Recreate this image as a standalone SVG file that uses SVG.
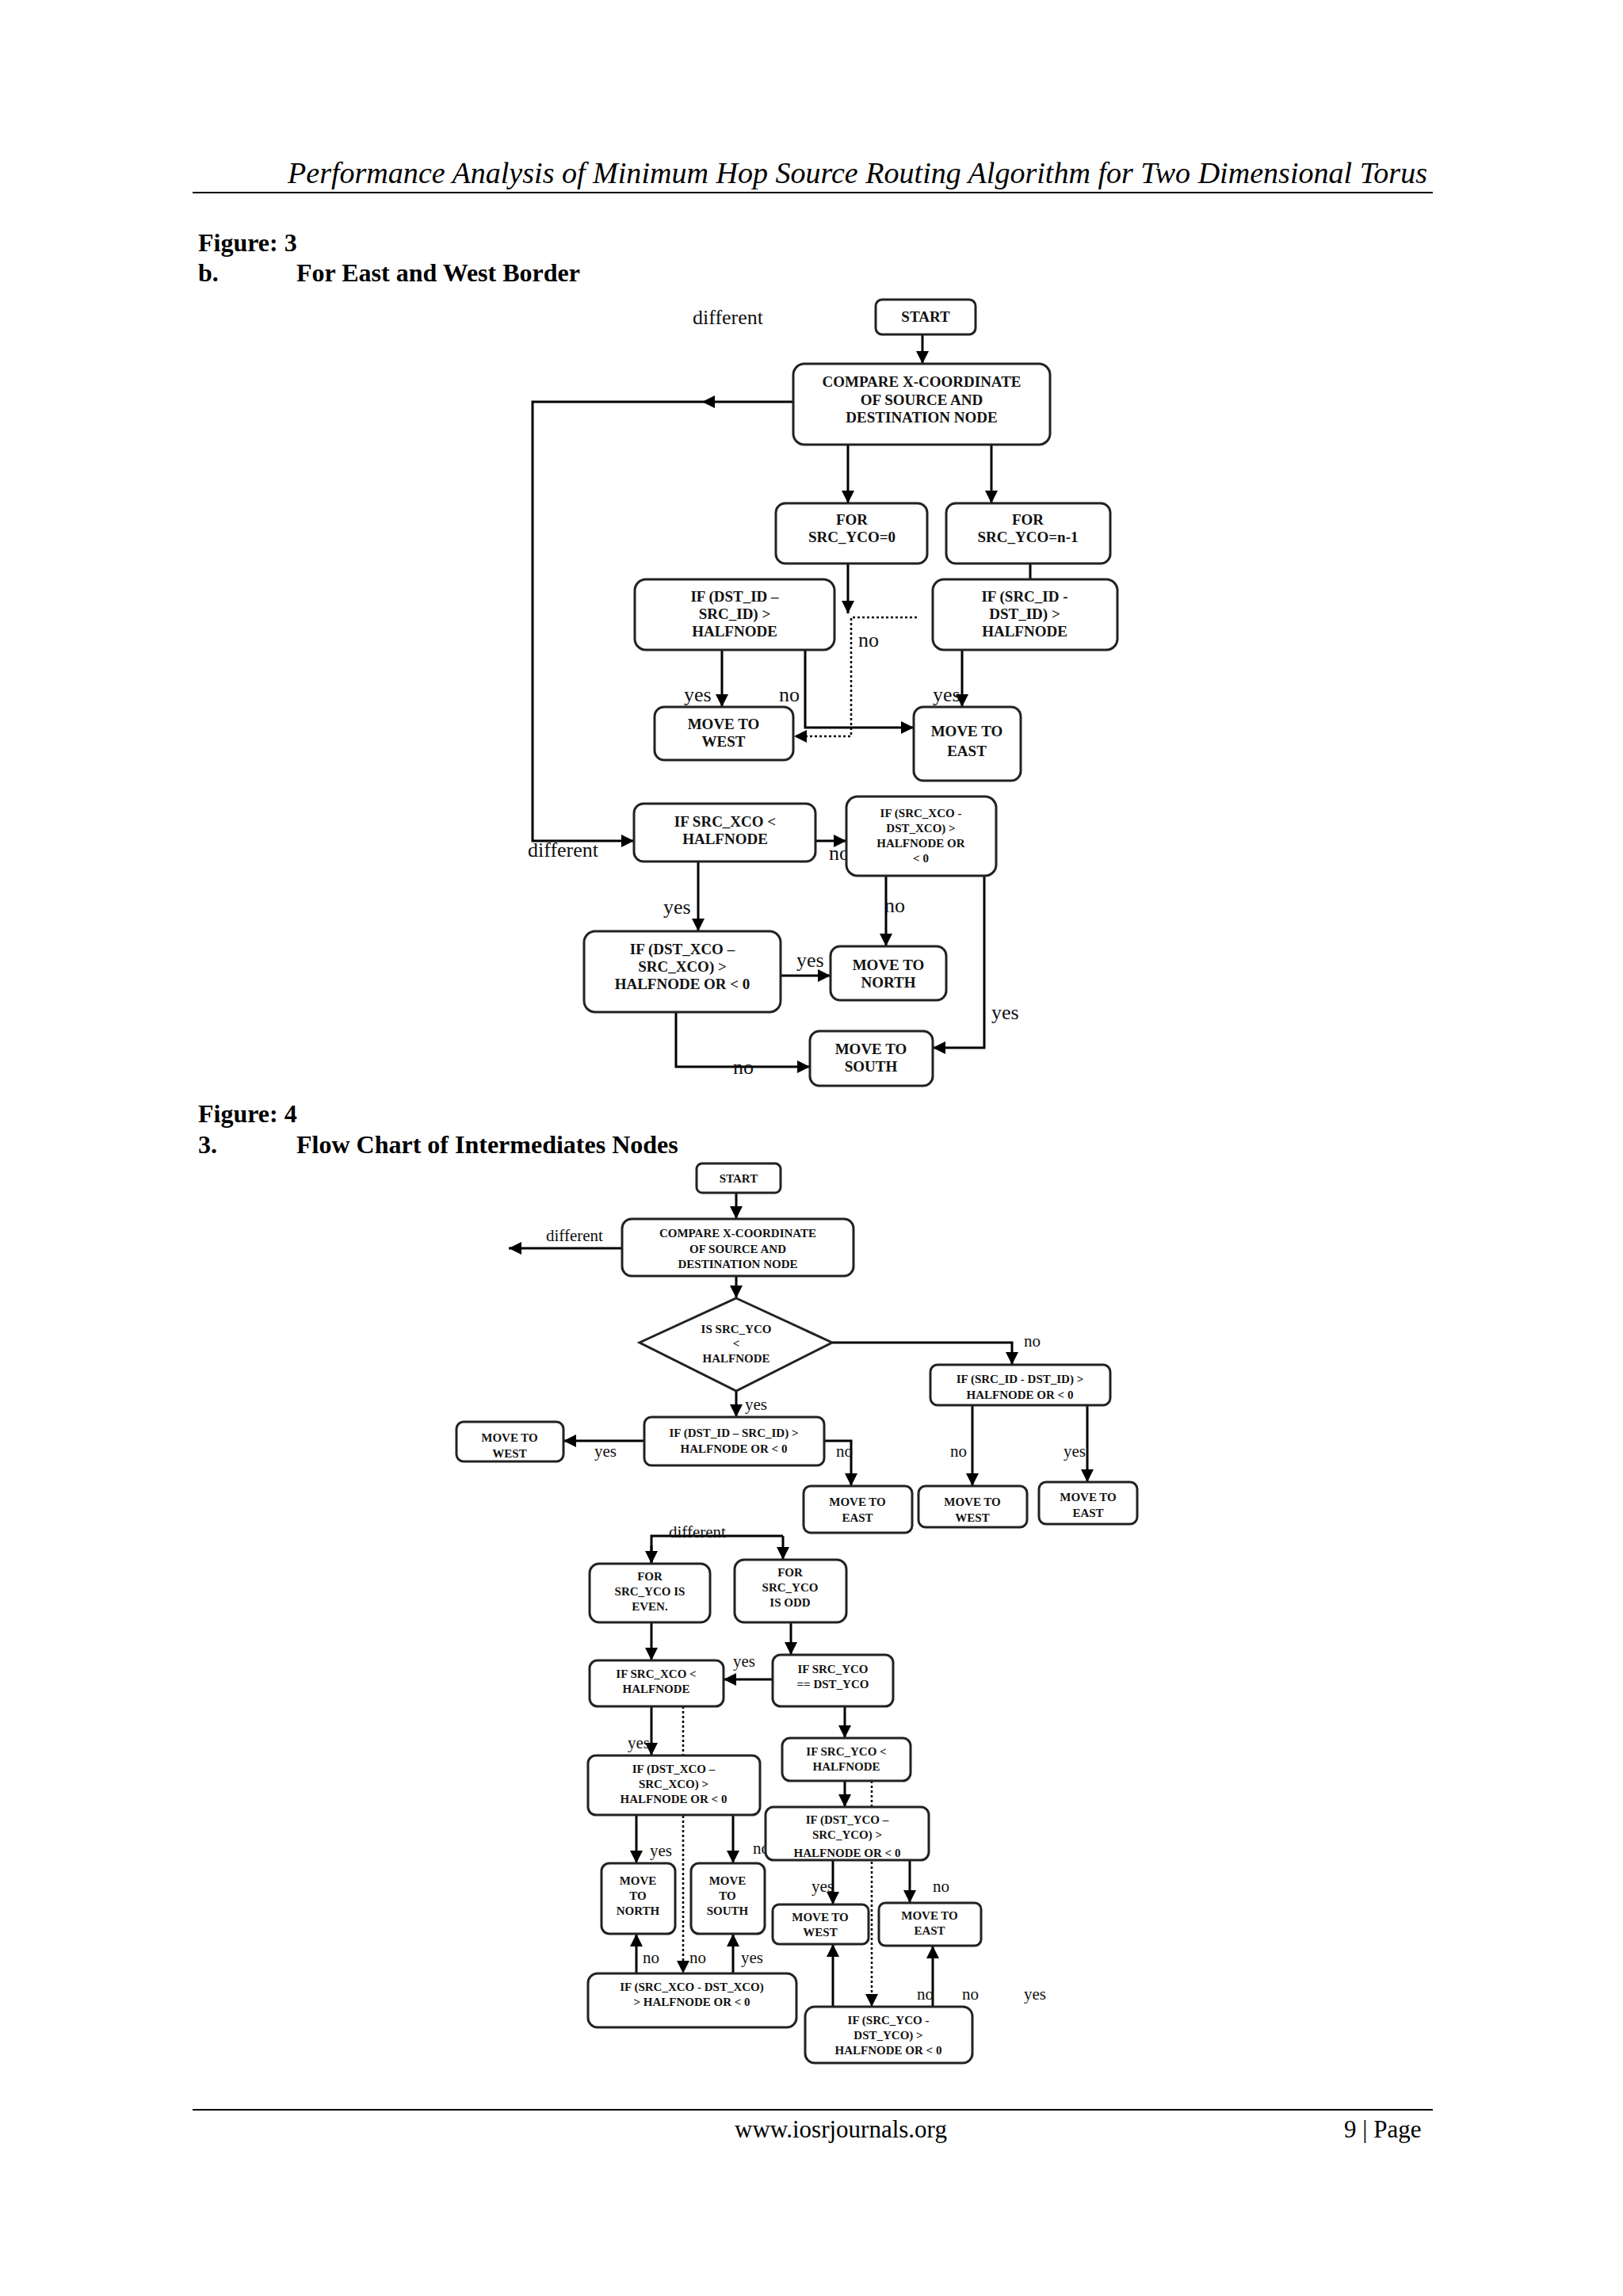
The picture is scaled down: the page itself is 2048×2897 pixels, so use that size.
<svg xmlns="http://www.w3.org/2000/svg" width="2048" height="2897" viewBox="0 0 2048 2897">
<defs>
<marker id="ah" viewBox="0 0 10 10" refX="10" refY="5" markerWidth="16" markerHeight="16" markerUnits="userSpaceOnUse" orient="auto"><path d="M0,0 L10,5 L0,10 z" fill="#000"/></marker>
<clipPath id="c1"><rect x="966" y="2280" width="206" height="64"/></clipPath>
</defs>
<style>
.b{fill:#fff;stroke:#222;stroke-width:3}
.t{font-family:"Liberation Serif",serif;font-weight:bold;font-size:19px;text-anchor:middle;fill:#111}
.s{font-family:"Liberation Serif",serif;font-weight:bold;font-size:15px;text-anchor:middle;fill:#111}
.l{font-family:"Liberation Serif",serif;font-size:26px;fill:#111}
.ls{font-family:"Liberation Serif",serif;font-size:21px;fill:#111}
.c{fill:none;stroke:#000;stroke-width:3}
.ca{fill:none;stroke:#000;stroke-width:3;marker-end:url(#ah)}
.d{fill:none;stroke:#000;stroke-width:2.5;stroke-dasharray:3 3}
.da{fill:none;stroke:#000;stroke-width:2.5;stroke-dasharray:3 3;marker-end:url(#ah)}
.h{font-family:"Liberation Serif",serif;font-weight:bold;font-size:32px;fill:#000}
</style>
<rect width="2048" height="2897" fill="#fff"/>
<g id="page">
<text x="363" y="231" font-family="Liberation Serif,serif" font-style="italic" font-size="37" textLength="1438" lengthAdjust="spacingAndGlyphs">Performance Analysis of Minimum Hop Source Routing Algorithm for Two Dimensional Torus</text>
<line x1="243" y1="243" x2="1808" y2="243" stroke="#000" stroke-width="2"/>
<text class="h" x="250" y="317">Figure: 3</text>
<text class="h" x="250" y="355">b.</text>
<text class="h" x="374" y="355">For East and West Border</text>
<text class="h" x="250" y="1416">Figure: 4</text>
<text class="h" x="250" y="1455">3.</text>
<text class="h" x="374" y="1455">Flow Chart of Intermediates Nodes</text>
<line x1="243" y1="2662" x2="1808" y2="2662" stroke="#000" stroke-width="2"/>
<text x="1061" y="2697" font-family="Liberation Serif,serif" font-size="31" text-anchor="middle">www.iosrjournals.org</text>
<text x="1696" y="2697" font-family="Liberation Serif,serif" font-size="31">9 | Page</text>
</g>
<g id="connectors">
<!-- fig3 -->
<line class="ca" x1="1164" y1="422" x2="1164" y2="459"/>
<polyline class="c" points="1001,507 672,507 672,1061 800,1061"/>
<path d="M886,507 L902,499 L902,515 z" fill="#000"/>
<path d="M784,1053 L800,1061 L784,1069 z" fill="#000"/>
<line class="ca" x1="1070" y1="561" x2="1070" y2="635"/>
<line class="ca" x1="1251" y1="561" x2="1251" y2="635"/>
<line class="ca" x1="1070" y1="711" x2="1070" y2="774"/>
<line class="ca" x1="1300" y1="711" x2="1300" y2="785"/>
<polyline class="da" points="1157,779 1074,779 1074,929 1002,929"/>
<line class="ca" x1="911" y1="820" x2="911" y2="892"/>
<polyline class="ca" points="1016,820 1016,918 1153,918"/>
<line class="ca" x1="1214" y1="820" x2="1214" y2="892"/>
<line class="ca" x1="1029" y1="1061" x2="1068" y2="1061"/>
<line class="ca" x1="1118" y1="1105" x2="1118" y2="1194"/>
<polyline class="ca" points="1242,1105 1242,1322 1177,1322"/>
<line class="ca" x1="881" y1="1087" x2="881" y2="1175"/>
<line class="ca" x1="985" y1="1231" x2="1048" y2="1231"/>
<polyline class="ca" points="853,1277 853,1346 1022,1346"/>
<!-- fig4 -->
<line class="ca" x1="929" y1="1505" x2="929" y2="1538"/>
<line class="ca" x1="785" y1="1575" x2="642" y2="1575"/>
<line class="ca" x1="929" y1="1610" x2="929" y2="1638"/>
<polyline class="ca" points="1050,1694 1277,1694 1277,1722"/>
<line class="ca" x1="929" y1="1755" x2="929" y2="1788"/>
<line class="ca" x1="813" y1="1818" x2="711" y2="1818"/>
<polyline class="ca" points="1040,1818 1074,1818 1074,1875"/>
<line class="ca" x1="1227" y1="1773" x2="1227" y2="1875"/>
<line class="ca" x1="1372" y1="1773" x2="1372" y2="1870"/>
<polyline class="c" points="822,1973 822,1938 988,1938"/>
<line class="ca" x1="822" y1="1950" x2="822" y2="1973"/>
<line class="ca" x1="988" y1="1938" x2="988" y2="1968"/>
<line class="ca" x1="822" y1="2047" x2="822" y2="2095"/>
<line class="ca" x1="998" y1="2047" x2="998" y2="2088"/>
<line class="ca" x1="975" y1="2119" x2="913" y2="2119"/>
<line class="da" x1="862" y1="2153" x2="862" y2="2490"/>
<line class="ca" x1="822" y1="2153" x2="822" y2="2215"/>
<line class="ca" x1="1066" y1="2153" x2="1066" y2="2193"/>
<line class="da" x1="1100" y1="2247" x2="1100" y2="2532"/>
<line class="ca" x1="1066" y1="2247" x2="1066" y2="2280"/>
<line class="ca" x1="803" y1="2290" x2="803" y2="2351"/>
<line class="ca" x1="925" y1="2290" x2="925" y2="2351"/>
<line class="ca" x1="1051" y1="2347" x2="1051" y2="2403"/>
<line class="ca" x1="1148" y1="2347" x2="1148" y2="2401"/>
<line class="ca" x1="803" y1="2490" x2="803" y2="2440"/>
<line class="ca" x1="925" y1="2490" x2="925" y2="2440"/>
<line class="ca" x1="1051" y1="2532" x2="1051" y2="2453"/>
<line class="ca" x1="1177" y1="2532" x2="1177" y2="2455"/>
</g>
<g id="labels">
<text class="l" x="874" y="409">different</text>
<text class="l" x="1083" y="816">no</text>
<text class="l" x="863" y="885">yes</text>
<text class="l" x="983" y="885">no</text>
<text class="l" x="1177" y="885">yes</text>
<text class="l" x="666" y="1081">different</text>
<text class="l" x="1046" y="1085">no</text>
<text class="l" x="1116" y="1151">no</text>
<text class="l" x="1251" y="1286">yes</text>
<text class="l" x="837" y="1153">yes</text>
<text class="l" x="1005" y="1220">yes</text>
<text class="l" x="925" y="1355">no</text>
<text class="ls" x="689" y="1566">different</text>
<text class="ls" x="1292" y="1699">no</text>
<text class="ls" x="940" y="1779">yes</text>
<text class="ls" x="750" y="1838">yes</text>
<text class="ls" x="1055" y="1838">no</text>
<text class="ls" x="1199" y="1838">no</text>
<text class="ls" x="1342" y="1838">yes</text>
<text class="ls" x="844" y="1940">different</text>
<text class="ls" x="925" y="2103">yes</text>
<text class="ls" x="792" y="2206">yes</text>
<text class="ls" x="820" y="2342">yes</text>
<text class="ls" x="950" y="2339">no</text>
<text class="ls" x="1024" y="2387">yes</text>
<text class="ls" x="1177" y="2387">no</text>
<text class="ls" x="811" y="2477">no</text>
<text class="ls" x="870" y="2477">no</text>
<text class="ls" x="935" y="2477">yes</text>
<text class="ls" x="1157" y="2523">no</text>
<text class="ls" x="1214" y="2523">no</text>
<text class="ls" x="1292" y="2523">yes</text>
</g>
<!-- Figure 3 nodes -->
<g id="f3-start"><rect class="b" x="1105" y="378" width="126" height="44" rx="8"/><text class="t" x="1168" y="406">START</text></g>
<g id="f3-compare"><rect class="b" x="1001" y="459" width="324" height="102" rx="14"/><text class="t" x="1163" y="488">COMPARE X-COORDINATE</text><text class="t" x="1163" y="511">OF SOURCE AND</text><text class="t" x="1163" y="533">DESTINATION  NODE</text></g>
<g id="f3-for0"><rect class="b" x="979" y="635" width="191" height="76" rx="12"/><text class="t" x="1075" y="662">FOR</text><text class="t" x="1075" y="684">SRC_YCO=0</text></g>
<g id="f3-forn"><rect class="b" x="1194" y="635" width="207" height="76" rx="12"/><text class="t" x="1297" y="662">FOR</text><text class="t" x="1297" y="684">SRC_YCO=n-1</text></g>
<g id="f3-ifdst"><rect class="b" x="801" y="731" width="252" height="89" rx="14"/><text class="t" x="927" y="759">IF (DST_ID –</text><text class="t" x="927" y="781">SRC_ID) &gt;</text><text class="t" x="927" y="803">HALFNODE</text></g>
<g id="f3-ifsrc"><rect class="b" x="1177" y="731" width="233" height="89" rx="14"/><text class="t" x="1293" y="759">IF (SRC_ID -</text><text class="t" x="1293" y="781">DST_ID) &gt;</text><text class="t" x="1293" y="803">HALFNODE</text></g>
<g id="f3-west"><rect class="b" x="826" y="892" width="175" height="67" rx="12"/><text class="t" x="913" y="920">MOVE TO</text><text class="t" x="913" y="942">WEST</text></g>
<g id="f3-east"><rect class="b" x="1153" y="892" width="135" height="93" rx="12"/><text class="t" x="1220" y="929">MOVE TO</text><text class="t" x="1220" y="954">EAST</text></g>
<g id="f3-ifxco"><rect class="b" x="800" y="1014" width="229" height="73" rx="12"/><text class="t" x="915" y="1043">IF SRC_XCO &lt;</text><text class="t" x="915" y="1065">HALFNODE</text></g>
<g id="f3-ifsx"><rect class="b" x="1068" y="1005" width="189" height="100" rx="14"/><text class="s" x="1162" y="1031">IF (SRC_XCO -</text><text class="s" x="1162" y="1050">DST_XCO) &gt;</text><text class="s" x="1162" y="1069">HALFNODE OR</text><text class="s" x="1162" y="1088">&lt; 0</text></g>
<g id="f3-ifdx"><rect class="b" x="737" y="1175" width="248" height="102" rx="14"/><text class="t" x="861" y="1204">IF (DST_XCO –</text><text class="t" x="861" y="1226">SRC_XCO) &gt;</text><text class="t" x="861" y="1248">HALFNODE OR  &lt; 0</text></g>
<g id="f3-north"><rect class="b" x="1048" y="1194" width="146" height="68" rx="12"/><text class="t" x="1121" y="1224">MOVE TO</text><text class="t" x="1121" y="1246">NORTH</text></g>
<g id="f3-south"><rect class="b" x="1022" y="1301" width="155" height="69" rx="12"/><text class="t" x="1099" y="1330">MOVE TO</text><text class="t" x="1099" y="1352">SOUTH</text></g>
<!-- Figure 4 nodes -->
<g id="f4-start"><rect class="b" x="879" y="1468" width="106" height="37" rx="7"/><text class="s" x="932" y="1492">START</text></g>
<g id="f4-compare"><rect class="b" x="785" y="1538" width="292" height="72" rx="12"/><text class="s" x="931" y="1561">COMPARE  X-COORDINATE</text><text class="s" x="931" y="1581">OF SOURCE  AND</text><text class="s" x="931" y="1600">DESTINATION NODE</text></g>
<g id="f4-diamond"><polygon class="b" points="929,1638 1050,1694 929,1755 807,1694"/><text class="s" x="929" y="1682">IS SRC_YCO</text><text class="s" x="929" y="1700">&lt;</text><text class="s" x="929" y="1719">HALFNODE</text></g>
<g id="f4-ifsrc"><rect class="b" x="1174" y="1722" width="227" height="51" rx="9"/><text class="s" x="1287" y="1745">IF (SRC_ID - DST_ID) &gt;</text><text class="s" x="1287" y="1765">HALFNODE  OR  &lt; 0</text></g>
<g id="f4-ifdst"><rect class="b" x="813" y="1788" width="227" height="61" rx="9"/><text class="s" x="926" y="1813">IF (DST_ID – SRC_ID) &gt;</text><text class="s" x="926" y="1833">HALFNODE  OR  &lt; 0</text></g>
<g id="f4-west1"><rect class="b" x="576" y="1794" width="135" height="50" rx="9"/><text class="s" x="643" y="1819">MOVE TO</text><text class="s" x="643" y="1839">WEST</text></g>
<g id="f4-east1"><rect class="b" x="1014" y="1875" width="137" height="59" rx="9"/><text class="s" x="1082" y="1900">MOVE TO</text><text class="s" x="1082" y="1920">EAST</text></g>
<g id="f4-west2"><rect class="b" x="1159" y="1875" width="137" height="52" rx="9"/><text class="s" x="1227" y="1900">MOVE TO</text><text class="s" x="1227" y="1920">WEST</text></g>
<g id="f4-east2"><rect class="b" x="1311" y="1870" width="124" height="53" rx="9"/><text class="s" x="1373" y="1894">MOVE TO</text><text class="s" x="1373" y="1914">EAST</text></g>
<g id="f4-even"><rect class="b" x="744" y="1973" width="152" height="74" rx="12"/><text class="s" x="820" y="1994">FOR</text><text class="s" x="820" y="2013">SRC_YCO IS</text><text class="s" x="820" y="2032">EVEN.</text></g>
<g id="f4-odd"><rect class="b" x="927" y="1968" width="141" height="79" rx="12"/><text class="s" x="997" y="1989">FOR</text><text class="s" x="997" y="2008">SRC_YCO</text><text class="s" x="997" y="2027">IS ODD</text></g>
<g id="f4-ifxco"><rect class="b" x="744" y="2095" width="169" height="58" rx="10"/><text class="s" x="828" y="2117">IF SRC_XCO &lt;</text><text class="s" x="828" y="2136">HALFNODE</text></g>
<g id="f4-ifyeq"><rect class="b" x="975" y="2088" width="152" height="65" rx="10"/><text class="s" x="1051" y="2111">IF SRC_YCO</text><text class="s" x="1051" y="2130">== DST_YCO</text></g>
<g id="f4-ifyco"><rect class="b" x="987" y="2193" width="162" height="54" rx="10"/><text class="s" x="1068" y="2215">IF SRC_YCO &lt;</text><text class="s" x="1068" y="2234">HALFNODE</text></g>
<g id="f4-ifdy"><rect class="b" x="966" y="2280" width="206" height="67" rx="10"/><g clip-path="url(#c1)"><text class="s" x="1069" y="2301">IF (DST_YCO –</text><text class="s" x="1069" y="2320">SRC_YCO) &gt;</text><text class="s" x="1069" y="2343">HALFNODE  OR  &lt; 0</text></g></g>
<g id="f4-ifdx"><rect class="b" x="742" y="2215" width="217" height="75" rx="10"/><text class="s" x="850" y="2237">IF (DST_XCO –</text><text class="s" x="850" y="2256">SRC_XCO) &gt;</text><text class="s" x="850" y="2275">HALFNODE  OR  &lt; 0</text></g>
<g id="f4-north"><rect class="b" x="759" y="2351" width="93" height="89" rx="10"/><text class="s" x="805" y="2378">MOVE</text><text class="s" x="805" y="2397">TO</text><text class="s" x="805" y="2416">NORTH</text></g>
<g id="f4-south"><rect class="b" x="872" y="2351" width="93" height="89" rx="10"/><text class="s" x="918" y="2378">MOVE</text><text class="s" x="918" y="2397">TO</text><text class="s" x="918" y="2416">SOUTH</text></g>
<g id="f4-west3"><rect class="b" x="975" y="2403" width="121" height="50" rx="8"/><text class="s" x="1035" y="2424">MOVE TO</text><text class="s" x="1035" y="2443">WEST</text></g>
<g id="f4-east3"><rect class="b" x="1109" y="2401" width="129" height="54" rx="8"/><text class="s" x="1173" y="2422">MOVE TO</text><text class="s" x="1173" y="2441">EAST</text></g>
<g id="f4-ifsx"><rect class="b" x="742" y="2490" width="263" height="68" rx="12"/><text class="s" x="873" y="2512">IF (SRC_XCO - DST_XCO)</text><text class="s" x="873" y="2531">&gt; HALFNODE  OR  &lt; 0</text></g>
<g id="f4-ifsy"><rect class="b" x="1016" y="2532" width="211" height="71" rx="12"/><text class="s" x="1121" y="2554">IF (SRC_YCO -</text><text class="s" x="1121" y="2573">DST_YCO) &gt;</text><text class="s" x="1121" y="2592">HALFNODE  OR  &lt; 0</text></g>
</svg>
